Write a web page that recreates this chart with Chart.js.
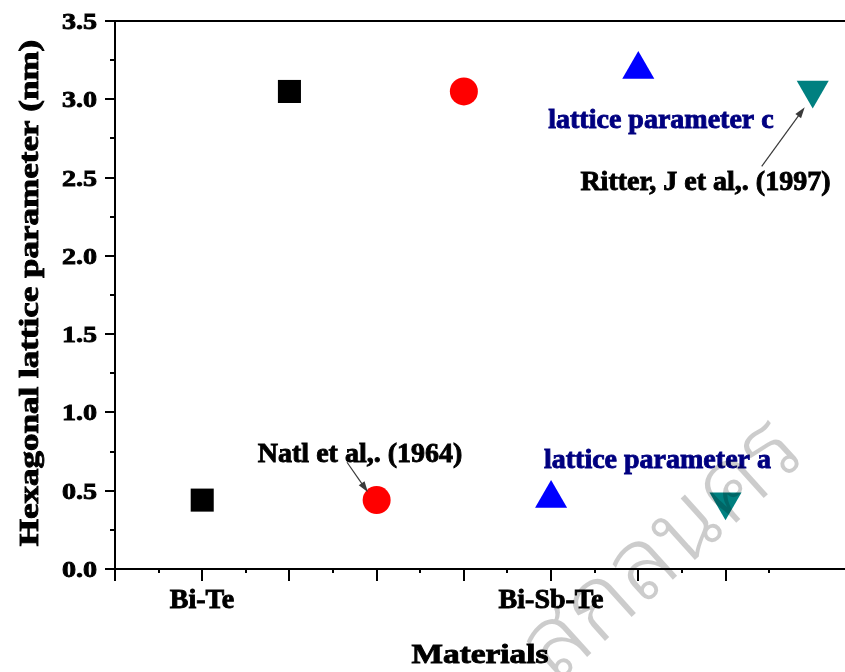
<!DOCTYPE html>
<html>
<head>
<meta charset="utf-8">
<script src="https://cdn.jsdelivr.net/npm/chart.js@4.4.1/dist/chart.umd.min.js"></script>
<style>
  html, body { margin: 0; padding: 0; background: #ffffff; }
  #wrap { width: 845px; height: 672px; position: relative; }
</style>
</head>
<body>
<div id="wrap"><canvas id="c"></canvas></div>
<script>
// Hexagonal lattice parameters a (lower row) and c (upper row), nm
const xTickLabels = ['', 'Bi-Te', '', '', '', 'Bi-Sb-Te', '', '', ''];
const squareX = [1, 2];
const squareY = [0.44, 3.05];
const circleX = [3, 4];
const circleY = [0.44, 3.05];
const triUpX = [5, 6];
const triUpY = [0.45, 3.19];
const triDownX = [7, 8];
const triDownY = [0.43, 3.06];

const yTitle = 'Hexagonal lattice parameter (nm)';
const xTitle = 'Materials';
const watermarkText = 'สกลนคร';

const pts = (xs, ys) => xs.map((x, i) => ({ x: x, y: ys[i] }));

const SERIF = '"Liberation Serif", "Times New Roman", Times, serif';

// text notes placed in data space
const notes = [
  { text: 'Natl et al,. (1964)', x: 2.81, y: 0.682, color: '#000000' },
  { text: 'lattice parameter a', x: 6.22, y: 0.644, color: '#000080' },
  { text: 'lattice parameter c', x: 6.26, y: 2.815, color: '#000080' },
  { text: 'Ritter, J et al,. (1997)', x: 6.77, y: 2.418, color: '#000000' }
];
const arrows = [
  { from: [2.66, 0.682], to: [2.90, 0.49] },
  { from: [7.415, 2.572], to: [7.908, 2.949] }
];

function drawText(ctx, txt, x, y, o) {
  ctx.save();
  ctx.translate(x, y);
  if (o.rot) ctx.rotate(o.rot);
  ctx.scale(o.sx || 1, 1);
  ctx.font = 'bold ' + o.size + 'px ' + SERIF;
  ctx.textAlign = o.align || 'center';
  ctx.textBaseline = 'alphabetic';
  ctx.fillStyle = o.color || '#000';
  ctx.fillText(txt, 0, 0);
  // slightly heavier strokes
  ctx.strokeStyle = o.color || '#000';
  ctx.lineWidth = 0.9;
  ctx.strokeText(txt, 0, 0);
  ctx.restore();
}

function drawArrow(ctx, x1, y1, x2, y2) {
  const ang = Math.atan2(y2 - y1, x2 - x1);
  const L = 11, W = 3.5;
  ctx.save();
  ctx.strokeStyle = '#3a3a3a';
  ctx.fillStyle = '#3a3a3a';
  ctx.lineWidth = 1.2;
  ctx.beginPath();
  ctx.moveTo(x1, y1);
  ctx.lineTo(x2 - Math.cos(ang) * L * 0.8, y2 - Math.sin(ang) * L * 0.8);
  ctx.stroke();
  ctx.beginPath();
  ctx.moveTo(x2, y2);
  ctx.lineTo(x2 - Math.cos(ang) * L - Math.sin(ang) * W, y2 - Math.sin(ang) * L + Math.cos(ang) * W);
  ctx.lineTo(x2 - Math.cos(ang) * L + Math.sin(ang) * W, y2 - Math.sin(ang) * L - Math.cos(ang) * W);
  ctx.closePath();
  ctx.fill();
  ctx.restore();
}

const decor = {
  id: 'decor',
  afterDraw(chart) {
    const ctx = chart.ctx;
    const xs = chart.scales.x, ys = chart.scales.y;
    const area = chart.chartArea;
    ctx.save();
    ctx.strokeStyle = '#000';
    ctx.lineWidth = 2;

    // top frame
    ctx.beginPath();
    ctx.moveTo(area.left - 1, area.top);
    ctx.lineTo(area.right, area.top);
    ctx.stroke();

    // y ticks: major every 0.5, minor between
    ys.ticks.forEach(t => {
      const py = Math.round(ys.getPixelForValue(t.value));
      ctx.beginPath();
      ctx.moveTo(area.left - 10, py);
      ctx.lineTo(area.left, py);
      ctx.stroke();
      const pm = Math.round(ys.getPixelForValue(t.value + 0.25));
      if (t.value + 0.25 < ys.max) {
        ctx.beginPath();
        ctx.moveTo(area.left - 5, pm);
        ctx.lineTo(area.left, pm);
        ctx.stroke();
      }
      drawText(ctx, t.value.toFixed(1), 97, py + 8, { size: 24, sx: 1.17, align: 'right' });
    });

    // x ticks: major at integers, minor between
    xs.ticks.forEach(t => {
      const px = Math.round(xs.getPixelForValue(t.value));
      ctx.beginPath();
      ctx.moveTo(px, area.bottom);
      ctx.lineTo(px, area.bottom + 12);
      ctx.stroke();
      const pm = Math.round(xs.getPixelForValue(t.value + 0.5));
      if (t.value + 0.5 < xs.max) {
        ctx.beginPath();
        ctx.moveTo(pm, area.bottom);
        ctx.lineTo(pm, area.bottom + 4);
        ctx.stroke();
      }
      const lab = xTickLabels[t.value];
      if (lab) drawText(ctx, lab, px, 608, { size: 28 });
    });
    ctx.restore();

    // axis titles
    drawText(ctx, xTitle, (area.left + area.right) / 2, 663, { size: 28, sx: 1.19 });
    drawText(ctx, yTitle, 38, (area.top + area.bottom) / 2 - 2, { size: 28, sx: 1.25, rot: -Math.PI / 2 });

    // notes and arrows
    notes.forEach(n => {
      drawText(ctx, n.text, xs.getPixelForValue(n.x), ys.getPixelForValue(n.y), { size: 28, color: n.color });
    });
    arrows.forEach(a => {
      drawArrow(ctx,
        xs.getPixelForValue(a.from[0]), ys.getPixelForValue(a.from[1]),
        xs.getPixelForValue(a.to[0]), ys.getPixelForValue(a.to[1]));
    });

    // library watermark
    ctx.save();
    ctx.translate(664, 550);
    ctx.rotate(-42 * Math.PI / 180);
    ctx.font = '300 100px "Noto Sans Thai Looped", "Noto Serif Thai", Loma, Garuda, Norasi, "Noto Sans Thai", sans-serif';
    ctx.textAlign = 'center';
    ctx.textBaseline = 'middle';
    ctx.fillStyle = 'rgba(0,0,0,0.2)';
    ctx.fillText(watermarkText, 0, 0);
    ctx.restore();
  }
};

new Chart(document.getElementById('c'), {
  type: 'scatter',
  data: {
    datasets: [
      { data: pts(squareX, squareY), pointStyle: 'rect', pointRadius: 16.3, backgroundColor: '#000000', borderWidth: 0 },
      { data: pts(circleX, circleY), pointStyle: 'circle', pointRadius: 14, backgroundColor: '#ff0000', borderWidth: 0 },
      { data: pts(triUpX, triUpY), pointStyle: 'triangle', pointRadius: 18.5, backgroundColor: '#0000ff', borderWidth: 0 },
      { data: pts(triDownX, triDownY), pointStyle: 'triangle', rotation: 180, pointRadius: 18.5, backgroundColor: '#008080', borderWidth: 0 }
    ]
  },
  options: {
    responsive: true,
    maintainAspectRatio: false,
    animation: false,
    events: [],
    clip: false,
    layout: { autoPadding: false, padding: { top: 21, right: 0, left: 0, bottom: 0 } },
    plugins: { legend: { display: false }, tooltip: { enabled: false } },
    scales: {
      x: {
        type: 'linear',
        min: 0,
        max: 8.37,
        ticks: { display: false, stepSize: 1 },
        grid: { display: false },
        border: { display: true, color: '#000', width: 2 },
        afterBuildTicks: s => { s.ticks = s.ticks.filter(t => Number.isInteger(t.value)); },
        afterFit: s => { s.height = 103; }
      },
      y: {
        min: 0,
        max: 3.5,
        ticks: { display: false, stepSize: 0.5 },
        grid: { display: false },
        border: { display: true, color: '#000', width: 2 },
        afterFit: s => { s.width = 115; }
      }
    }
  },
  plugins: [decor]
});
</script>
</body>
</html>
